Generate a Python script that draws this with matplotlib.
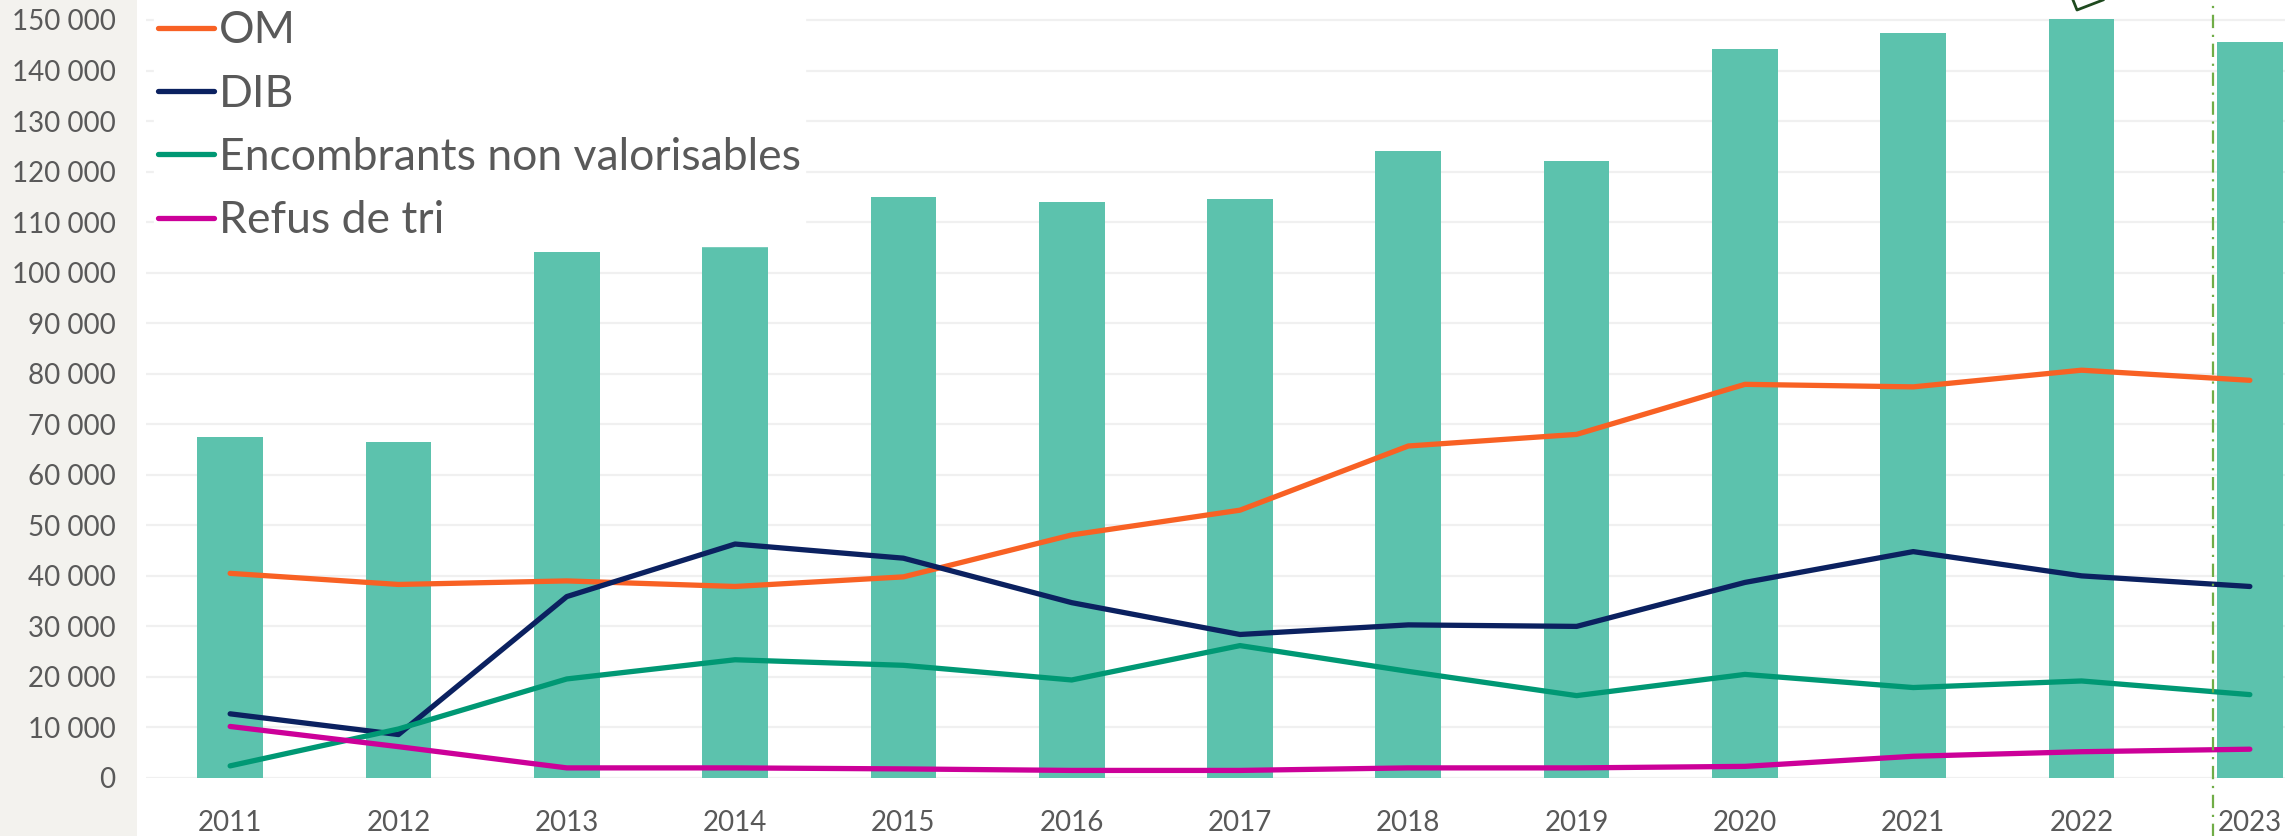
import matplotlib
matplotlib.use('Agg')
import matplotlib.pyplot as plt
from matplotlib.lines import Line2D
from matplotlib.patches import Rectangle
from matplotlib.ticker import FuncFormatter

# Data
years = ['2011', '2012', '2013', '2014', '2015', '2016', '2017',
         '2018', '2019', '2020', '2021', '2022', '2023']
total = [67500, 66500, 104000, 105000, 115000, 114000, 114500,
         124000, 122000, 144200, 147400, 150200, 145700]
om = [40500, 38300, 39000, 37900, 39800, 48100, 53000,
      65700, 68000, 77900, 77400, 80700, 78700]
dib = [12700, 8600, 35900, 46300, 43500, 34700, 28400,
       30300, 30000, 38700, 44800, 40000, 37900]
encombrants = [2400, 9700, 19600, 23400, 22300, 19400, 26200,
               21100, 16300, 20500, 17900, 19200, 16500]
refus = [10200, 6200, 2000, 2000, 1800, 1500, 1500,
         2000, 2000, 2300, 4300, 5200, 5700]

W, H = 2285, 836
fig = plt.figure(figsize=(W / 100, H / 100), dpi=100)
fig.patch.set_facecolor('white')

# beige strip behind the y labels
fig.add_artist(Rectangle((0, 0), 137 / W, 1, transform=fig.transFigure,
                         facecolor='#F3F2EE', edgecolor='none', zorder=0))

ax_left = 146 / W
ax_width = (2334 - 146) / W
ax = fig.add_axes([ax_left, 58 / H, ax_width, 778 / H])
ax.set_facecolor('none')

x = list(range(len(years)))
ax.bar(x, total, width=0.39, color='#5CC2AD', zorder=2)
ax.plot(x, om, color='#F86124', lw=3.8, zorder=3, label='OM', solid_capstyle='round')
ax.plot(x, dib, color='#0B2160', lw=3.8, zorder=3, label='DIB', solid_capstyle='round')
ax.plot(x, encombrants, color='#009874', lw=3.8, zorder=3,
        label='Encombrants non valorisables', solid_capstyle='round')
ax.plot(x, refus, color='#CC0099', lw=3.8, zorder=3, label='Refus de tri',
        solid_capstyle='round')

ax.set_xlim(-0.5, len(years) - 0.5)
ax.set_ylim(0, 150000 * 778 / 758)
ax.set_yticks(range(0, 150001, 10000))
ax.yaxis.set_major_formatter(FuncFormatter(lambda v, p: f'{int(v):,}'.replace(',', ' ')))
ax.set_xticks(x)
ax.set_xticklabels(years)
ax.grid(axis='y', color='#F0F0F0', lw=1.6, zorder=0)
for s in ax.spines.values():
    s.set_visible(False)
ax.tick_params(axis='both', length=0, labelsize=20, labelcolor='#595959')
ax.tick_params(axis='y', pad=22)
ax.tick_params(axis='x', pad=23)
for lab in ax.get_xticklabels() + ax.get_yticklabels():
    lab.set_family('Lato')

# dashed marker line near 2023
ax.axvline(11.78, ymin=-0.08, ymax=1, color='#70AD47', lw=1.6,
           ls=(0, (6, 3, 1, 3)), clip_on=False, zorder=4)

# cut-off annotation shape at the top
fig.add_artist(Line2D([2073 / W, 2077 / W, 2103 / W], [1, 1 - 10 / H, 1],
                      transform=fig.transFigure, color='#1F4A1F', lw=2))

leg = ax.legend(loc='upper left', bbox_to_anchor=(154 / W, 1 - 6 / H),
                bbox_transform=fig.transFigure, frameon=True, fancybox=False,
                edgecolor='white', facecolor='white', framealpha=1,
                handlelength=1.24, handletextpad=0.12, labelspacing=0.5,
                borderpad=0.1, borderaxespad=0,
                prop={'family': 'Lato', 'size': 32})
for t in leg.get_texts():
    t.set_color('#595959')
leg.set_zorder(5)

fig.savefig('out.png', dpi=100)
